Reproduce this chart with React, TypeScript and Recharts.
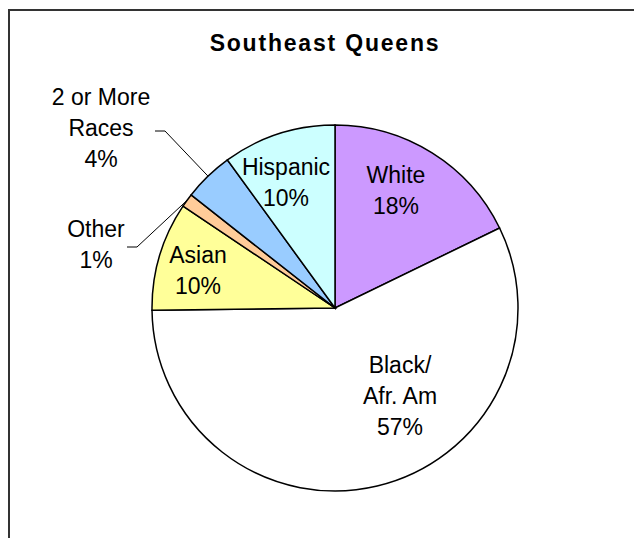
import React from 'react';
import { PieChart, Pie, Cell } from 'recharts';

const TITLE = 'Southeast Queens';
const CATEGORIES = ['White', 'Black/Afr. Am', 'Asian', 'Other', '2 or More Races', 'Hispanic'];
const LABEL_LINES = [['White'], ['Black/', 'Afr. Am'], ['Asian'], ['Other'], ['2 or More', 'Races'], ['Hispanic']];
const VALUES = [17.8, 57.0, 9.6, 1.2, 4.4, 10.0];
const COLORS = ['#CC99FF', '#FFFFFF', '#FFFF99', '#FFCC99', '#99CCFF', '#CCFFFF'];

// label placement (first-line baseline relative to pie centre)
const LABEL_OFFSETS = [
  { dx: 61, dy: -125 },
  { dx: 65, dy: 65 },
  { dx: -137, dy: -45 },
  { dx: -239, dy: -71 },
  { dx: -234, dy: -203 },
  { dx: -49, dy: -133 },
];
// leader lines: elbow and end relative to pie centre
const LEADERS: Record<number, { ex: number; ey: number; tx: number; ty: number }> = {
  3: { ex: -198, ey: -61, tx: -208, ty: -61 },
  4: { ex: -170, ey: -177, tx: -180, ty: -177 },
};

const data = CATEGORIES.map((name, i) => ({ name, value: VALUES[i] }));

const RAD = Math.PI / 180;
const LINE_H = 31;

function renderLabel(props: any) {
  const { cx, cy, midAngle, outerRadius, index, percent } = props;
  const off = LABEL_OFFSETS[index];
  const x = cx + off.dx;
  const y = cy + off.dy;
  const lines = [...LABEL_LINES[index], `${Math.round(percent * 100)}%`];
  const lead = LEADERS[index];
  let leader = null;
  if (lead) {
    const rx = cx + outerRadius * Math.cos(-midAngle * RAD);
    const ry = cy + outerRadius * Math.sin(-midAngle * RAD);
    leader = (
      <path
        d={`M${rx},${ry}L${cx + lead.ex},${cy + lead.ey}L${cx + lead.tx},${cy + lead.ty}`}
        stroke="#000"
        strokeWidth={1}
        fill="none"
      />
    );
  }
  return (
    <g key={`lbl-${index}`}>
      {leader}
      <text
        x={x}
        y={y}
        textAnchor="middle"
        fontFamily="'Liberation Sans', Arial, sans-serif"
        fontSize={23}
        fill="#000"
      >
        {lines.map((l, i) => (
          <tspan key={i} x={x} y={y + i * LINE_H}>
            {l}
          </tspan>
        ))}
      </text>
    </g>
  );
}

export default function App() {
  return (
    <div
      style={{
        position: 'absolute',
        left: 8,
        top: 9,
        width: 626,
        height: 529,
        borderTop: '2px solid #333',
        borderLeft: '2px solid #333',
        boxSizing: 'border-box',
        background: '#fff',
        overflow: 'hidden',
      }}
    >
      <svg
        width={624}
        height={60}
        style={{ position: 'absolute', left: 0, top: 0, pointerEvents: 'none' }}
      >
        <text
          x={315}
          y={40}
          textAnchor="middle"
          fontFamily="'Liberation Sans', Arial, sans-serif"
          fontWeight="bold"
          fontSize={23}
          letterSpacing={1.8}
          fill="#000"
        >
          {TITLE}
        </text>
      </svg>
      <PieChart width={624} height={527} margin={{ top: 0, right: 0, bottom: 0, left: 0 }}>
        <Pie
          data={data}
          dataKey="value"
          nameKey="name"
          cx={325}
          cy={297}
          outerRadius={183}
          startAngle={90}
          endAngle={-270}
          stroke="#000"
          strokeWidth={1.5}
          label={renderLabel}
          labelLine={false}
          isAnimationActive={false}
        >
          {data.map((d, i) => (
            <Cell key={d.name} fill={COLORS[i]} />
          ))}
        </Pie>
      </PieChart>
    </div>
  );
}
